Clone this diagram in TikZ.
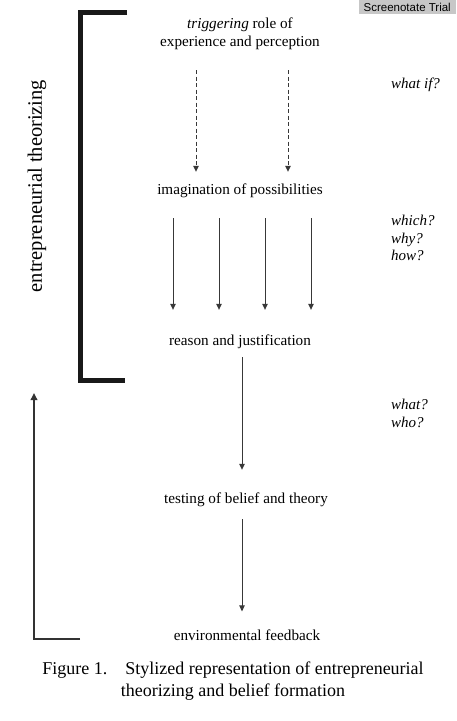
\documentclass[tikz,border=0pt]{standalone}
\usepackage{fontspec}
\setmainfont{Liberation Serif}
\setsansfont{Liberation Sans}
\usetikzlibrary{arrows.meta}
\tikzset{
    stage/.style={font=\fontsize{15.2}{18}\selectfont, inner sep=0pt, align=center},
    query/.style={font=\fontsize{15}{17.5}\selectfont\itshape, inner sep=0pt, anchor=west, align=left},
    flow/.style={draw=black!78, line width=1pt, -{Triangle[length=6pt,width=5.5pt]}},
    guess/.style={flow, dash pattern=on 4pt off 2.5pt},
}
\begin{document}
\begin{tikzpicture}[x=1pt,y=-1pt]
    \useasboundingbox (0,0) rectangle (456,721);
    % watermark
    \node[fill=black!22, font=\sffamily\fontsize{11.5}{12}\selectfont, anchor=north east,
          inner xsep=5pt, inner ysep=1.5pt, minimum height=14pt] (mark) at (456,0) {Screenotate Trial};
    % stages
    \node[stage] (trig) at (240,34) {\textit{triggering} role of\\experience and perception};
    \node[stage] (imag) at (240,191) {imagination of possibilities};
    \node[stage] (reas) at (240,342) {reason and justification};
    \node[stage] (test) at (246,500) {testing of belief and theory};
    \node[stage] (env) at (247,635) {environmental feedback};
    % questions
    \node[query] (whatif) at (391,85) {what if?};
    \node[query] (which) at (391,238) {which?\\why?\\how?};
    \node[query] (what) at (391,413.5) {what?\\who?};
    % connectors
    \draw[guess, shorten <=20pt, shorten >=12pt] ([xshift=-44pt]trig.south) -- ([xshift=-44pt]trig.south |- imag.north);
    \draw[guess, shorten <=20pt, shorten >=12pt] ([xshift=48pt]trig.south) -- ([xshift=48pt]trig.south |- imag.north);
    \foreach \dx in {-67,-21,25,71}
        \draw[flow, shorten <=20pt, shorten >=25pt] ([xshift=\dx pt]imag.south) -- ([xshift=\dx pt]imag.south |- reas.north);
    \draw[flow, shorten <=8pt, shorten >=23pt] ([xshift=2pt]reas.south) -- ([xshift=2pt]reas.south |- test.north);
    \draw[flow, shorten <=12pt, shorten >=18pt] ([xshift=2pt]reas.south |- test.south) -- ([xshift=2pt]reas.south |- env.north);
    % bracket
    \draw[line width=5pt, draw=black!90, line join=miter] (127,12.5) -| (80,380) -- (125,380);
    \node[font=\fontsize{20.5}{22}\selectfont, rotate=90, inner sep=0pt] (theo) at (37,186) {entrepreneurial theorizing};
    % feedback loop
    \coordinate (fb) at (80,639);
    \coordinate (back) at (34,393);
    \draw[draw=black!80, line width=1.8pt, -{Triangle[length=7pt,width=6.5pt]}] (fb) -| (back);
    % caption
    \node[font=\fontsize{18}{22}\selectfont, inner sep=0pt, align=center] (cap) at (233,681)
        {Figure 1.\quad Stylized representation of entrepreneurial\\theorizing and belief formation};
\end{tikzpicture}
\end{document}
